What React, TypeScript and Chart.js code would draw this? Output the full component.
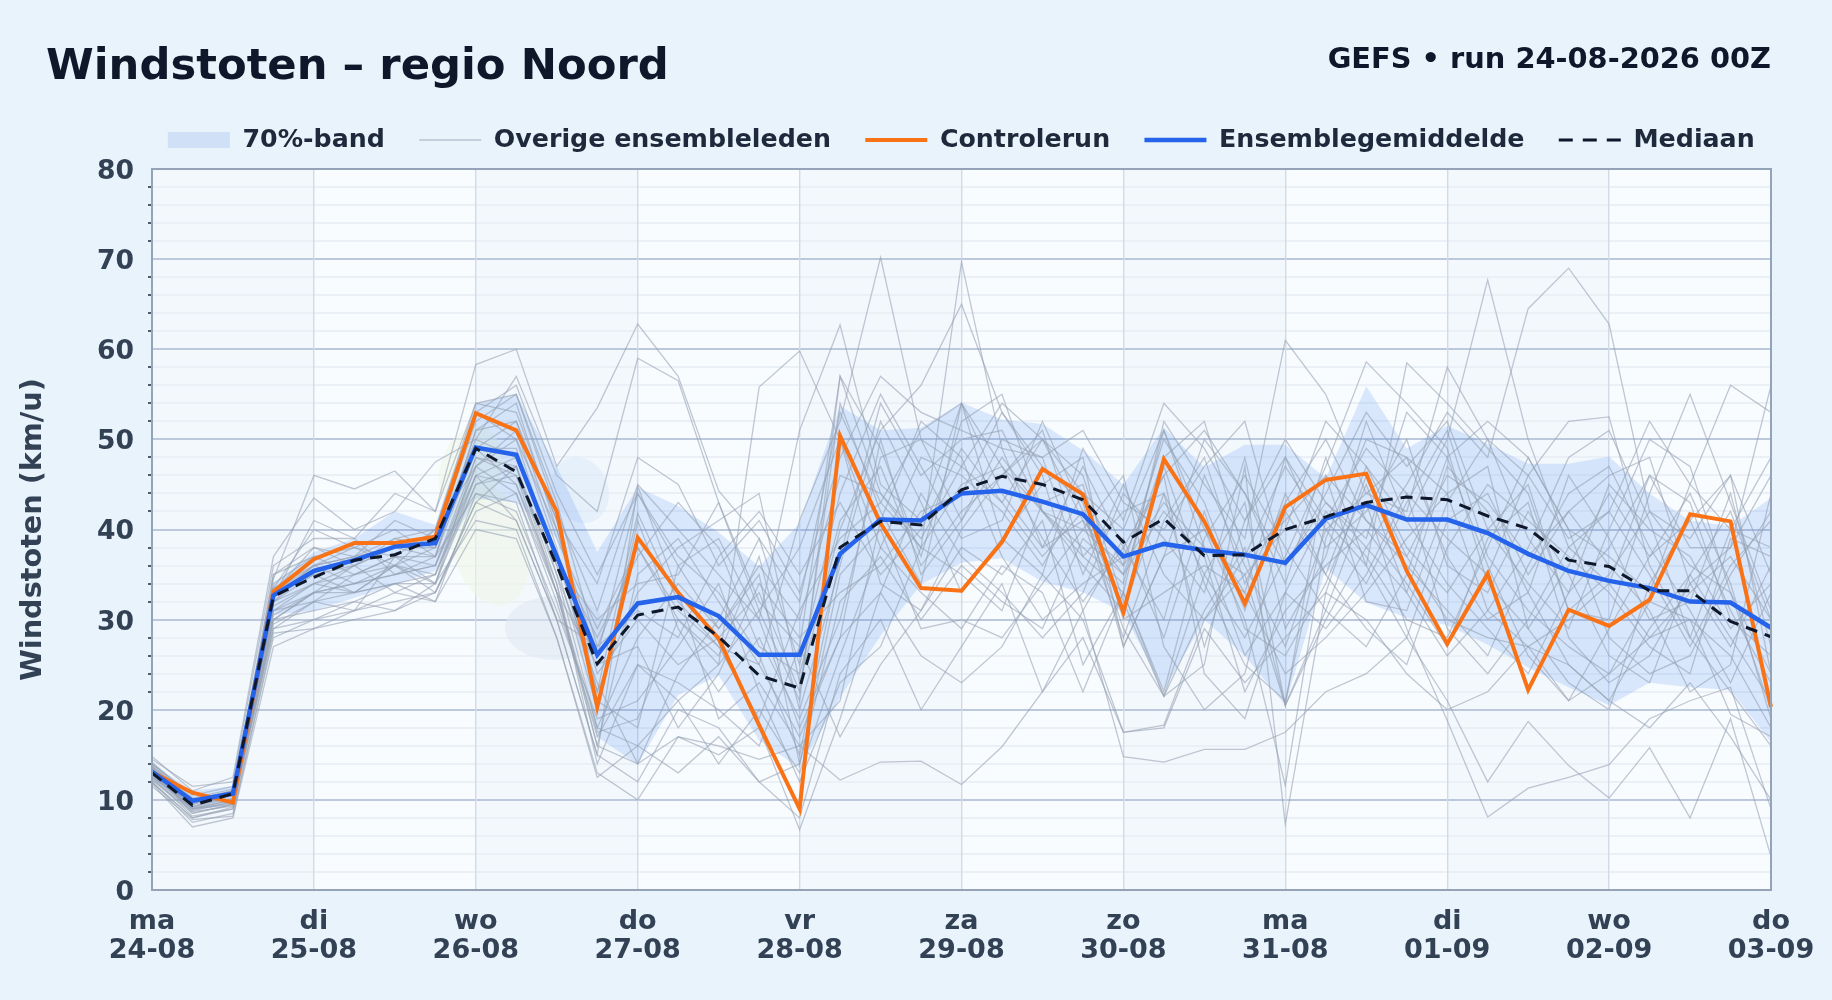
import React, { useEffect, useRef } from "react";
import { Chart, registerables } from "chart.js";

Chart.register(...registerables);

const dayNames = ["ma", "di", "wo", "do", "vr", "za", "zo", "ma", "di", "wo", "do"];
const dayDates = ["24-08", "25-08", "26-08", "27-08", "28-08", "29-08", "30-08", "31-08", "01-09", "02-09", "03-09"];
const stepsPerDay = 4;

const control = [13.1, 10.8, 9.7, 33.1, 36.7, 38.5, 38.5, 39.2, 52.9, 51, 42, 20.3, 39.1, 33, 27.9, 18.3, 9, 50.4, 40.7, 33.5, 33.2, 38.6, 46.7, 43.9, 30.8, 47.8, 40.9, 31.8, 42.5, 45.5, 46.2, 35.4, 27.3, 35.1, 22.2, 31.1, 29.3, 32.2, 41.7, 40.9, 20.3];
const ensembleMean = [13.1, 9.9, 10.7, 32.7, 35.4, 36.6, 38.1, 38.5, 49.1, 48.3, 37, 26.1, 31.8, 32.5, 30.4, 26.1, 26.1, 37.3, 41.1, 41, 44, 44.3, 43.1, 41.7, 37, 38.4, 37.7, 37.2, 36.3, 41.2, 42.7, 41.1, 41.1, 39.6, 37.3, 35.4, 34.3, 33.5, 32, 31.9, 29.1];
const median = [13, 9.4, 10.7, 32.6, 34.7, 36.6, 37.2, 39, 49, 46.4, 36, 25.1, 30.5, 31.4, 28.1, 23.8, 22.4, 38, 40.9, 40.5, 44.4, 45.9, 45, 43.3, 38.6, 41.2, 37.1, 37.2, 40, 41.4, 43, 43.6, 43.3, 41.5, 40.1, 36.6, 35.9, 33.2, 33.2, 29.8, 28.1];
const bandUpper = [14, 11, 11.5, 34, 37.5, 39, 42, 40.5, 54, 55, 47, 37.5, 44.7, 42.6, 39.7, 35.9, 40.7, 53.7, 51, 51.3, 54.1, 52.2, 51.7, 48.8, 45, 51.3, 46.9, 49.4, 49.4, 45.7, 55.9, 49, 51.5, 49.5, 47.3, 47.3, 48.1, 44, 41, 40.4, 43.5];
const bandLower = [12.3, 8.8, 9.5, 30.5, 31, 32.4, 33.9, 35.4, 43.4, 43, 39, 17, 13.9, 21.6, 23.8, 16.6, 13.5, 21.4, 28.2, 33.9, 36.3, 36.8, 34.2, 33, 30.8, 22.1, 30, 26, 20.5, 35.7, 31.9, 30.2, 29.4, 27.2, 24.7, 22.5, 20.5, 23, 22.5, 22.2, 16.4];

const m01 = [13.5, 8.5, 9.5, 34.5, 46, 44.5, 46.5, 42, 58.3, 60, 47, 53.5, 62.8, 57, 44.3, 39, 32, 53, 43, 38, 45, 47, 42, 40, 36, 43, 38, 35, 40, 52, 47, 41, 50, 67.7, 50, 38, 34, 46, 38, 38, 56];
const m02 = [14.8, 11, 12.5, 37, 43.5, 40, 42, 47.5, 50, 57, 46, 42, 59, 56.5, 43, 32, 27, 57, 49, 37, 52, 55, 42, 37, 33, 52, 45, 39, 61, 55, 44, 42, 58, 50, 46, 39, 42, 52, 45, 40, 38];
const m03 = [13, 10, 10.5, 33, 38, 36, 38, 37, 49, 52, 39, 29, 38, 31, 27, 25, 41, 52, 70.2, 50, 41, 48, 42, 36, 31, 44, 35, 28, 37, 47, 58.6, 54, 49, 34, 29, 36, 44, 37, 41, 46, 35];
const m04 = [12.5, 9.5, 11, 32, 36, 37, 39, 40, 47, 50, 40, 26, 44, 36, 29, 36, 30, 46, 44, 38, 69.7, 49, 38, 47, 38, 46, 51, 44, 36, 43, 38, 45, 53, 48, 64.5, 69, 62.8, 42, 36, 33, 24];
const m05 = [14, 10, 10, 35, 37, 35, 37, 36, 46, 48, 37, 22, 33, 38, 41, 44, 23, 40, 51, 56, 65, 53, 47, 43, 27, 37, 40, 33, 48, 41, 36, 58.5, 54, 49, 44, 31, 30, 44, 55, 43, 31];
const m06 = [12, 8, 9, 30, 33, 34, 36, 35, 45, 46, 33, 17, 25, 21, 25, 55.8, 59.8, 50, 34, 31, 40, 46, 50, 44, 40, 51, 38, 26, 33, 29, 35, 44, 39, 35, 46, 52, 52.5, 36, 28, 40, 48];
const m07 = [13, 10, 11, 31, 34, 36, 38, 39, 52, 55, 42, 31, 45, 40, 35, 30, 51, 62.7, 45, 41, 54, 39, 35, 49, 41, 54, 49, 41, 50, 43, 39, 53, 48, 52, 48, 40, 37, 33, 45, 56, 53];
const m08 = [13.6, 9.9, 10.9, 33.5, 36, 38, 36, 40, 54, 55, 43, 27, 38, 30, 25, 31, 21, 57, 44, 39, 47, 54, 50, 41, 28, 41, 48, 34, 43, 50, 41, 37, 46, 43, 37, 42, 46, 48, 34, 38, 46];
const m09 = [11.8, 7, 8, 27, 29, 31, 33, 32, 40, 39, 28, 13, 10, 17, 15, 18, 6.7, 19, 33, 26, 23, 27, 35, 30, 17.5, 18, 29, 23, 28, 33, 30, 24, 20, 22, 27, 25, 21, 18, 23, 17, 10];
const m10 = [12.5, 8.2, 9, 29, 30, 31, 32, 33, 42, 44, 33, 16, 14, 17, 16, 14.5, 16, 12.2, 14.2, 14.3, 11.7, 15.9, 22, 31, 14.8, 14.2, 15.6, 15.6, 17.5, 22, 24, 28, 21, 12, 18.7, 13.8, 10.2, 15.8, 8, 19, 3.7];
const m11 = [12, 7.5, 8.5, 28, 30, 32, 31, 33, 43, 41, 30, 15, 12, 20, 18, 12, 8, 24, 30, 20, 27, 34, 22, 28, 17.5, 18.3, 30, 35, 20.5, 31, 43, 29, 18.8, 8.1, 11.3, 12.5, 13.9, 19, 21, 22.5, 9];
const m12 = [13, 9, 9.5, 30, 33, 33, 34, 34, 45, 47, 33, 18, 16, 21, 14, 20, 13, 26, 38, 33, 29, 36, 33, 22, 33, 21.5, 25, 47, 7.3, 33, 46, 37, 30, 28, 27, 21, 24, 28, 30, 19.5, 17];
const m13 = [13.5, 9.5, 10.5, 33, 36, 37, 38, 38, 53, 56, 44, 35, 44, 37, 33, 26, 15, 37, 54, 46, 50, 51, 42, 38, 34, 51, 40, 30, 11.6, 39, 50, 48, 44, 31, 27, 30, 34, 28, 33, 37, 30];
const m14 = [12.8, 9, 10, 31, 33, 34, 35, 36, 48, 46, 36, 20, 41, 29, 22, 28, 19, 30, 48, 50, 47, 43, 50, 46, 32, 21.5, 31, 38, 20.5, 30, 38, 33, 47, 42, 33, 25, 21, 29, 35, 28, 21];
const m15 = [14, 10.5, 11.5, 34, 37, 38, 40, 37, 51, 54, 40, 24, 30, 25, 28, 33, 22, 54, 42, 34, 54, 44, 38, 41, 35, 48, 52, 37, 47, 40, 34, 43, 51, 37, 31, 27, 24, 32, 30, 26, 18];
const m16 = [13.2, 9.2, 10.5, 32, 35, 33, 36, 38, 49, 49, 35, 23, 14, 24, 30, 39, 25, 44, 55, 47, 39, 41, 52, 42, 29, 21.5, 35, 43, 20.5, 46, 41, 36, 31, 26, 36, 44, 47, 38, 31, 23, 33];
const m17 = [12.2, 8.5, 9.5, 30, 31, 32, 34, 32, 44, 43, 30, 15, 44.8, 33, 19, 23, 16, 21, 41, 52, 48, 37, 30, 34, 37, 46, 24, 19, 33, 42, 37, 30, 28, 38, 48, 40, 28, 24, 26, 35, 42];
const m18 = [13.8, 10, 11, 33, 35, 36, 33, 35, 47, 51, 38, 21, 18, 36, 39, 30, 18, 28, 33, 44, 37, 33, 28, 33, 44, 39, 33, 48, 29, 37, 52, 41, 34, 29, 24, 33, 38, 46, 43, 30, 26];
const m19 = [11.5, 7.8, 8.2, 28.5, 29, 30, 31, 34, 41, 40, 28, 12.5, 16, 13, 17, 12, 14, 35, 40, 29, 30, 28, 34, 40, 46, 27, 20, 24, 42, 35, 29, 25, 38, 45, 41, 37, 33, 27, 24, 39, 37];
const m20 = [14.5, 11.5, 12, 36, 39, 39, 44, 42, 54, 53, 41, 34, 48, 45, 36, 41, 33, 48, 57, 53, 51, 49, 48, 51, 43, 40, 47, 52, 36, 44, 53, 47, 52, 40, 34, 29, 40, 50, 47, 33, 20];
const m21 = [13, 9.8, 10.5, 32, 34, 35, 36, 34, 46, 45, 33, 25, 27, 18, 24, 34, 28, 33, 36, 42, 44, 53, 46, 31, 39, 28, 42, 29, 26, 34, 45, 33, 26, 31, 38, 48, 51, 41, 28, 22, 16];
const m22 = [12.6, 8.8, 9.8, 31, 32, 35, 37, 37, 44, 42, 31, 19, 21, 27, 34, 22, 12, 23, 27, 38, 35, 31, 43, 45, 30, 33, 36, 33, 24, 28, 33, 39, 44, 47, 29, 23, 20, 34, 41, 31, 23];
const m23 = [13.7, 9.9, 10.8, 35, 38, 37, 41, 39, 50, 48, 37, 28, 37, 43, 38, 27, 24, 41, 47, 36, 42, 46, 51, 37, 42, 44, 27, 41, 48, 38, 42, 50, 36, 33, 42, 35, 26, 23, 35, 42, 30];
const m24 = [12.9, 9.1, 10, 32.5, 36, 34, 35, 36, 47, 44, 32, 17.5, 19, 30, 26, 37, 20, 36, 52, 43, 33, 39, 45, 48, 27, 37, 50, 44, 34, 48, 36, 28, 41, 44, 35, 42, 36, 31, 22, 25, 44];
const m25 = [14.2, 10.2, 11.2, 33.5, 40, 38, 37, 40, 53, 50, 36, 30, 34, 35, 43, 31, 38, 50, 38, 48, 46, 42, 36, 44, 36, 50, 43, 31, 44, 35, 47, 38, 33, 40, 45, 31, 35, 42, 39, 46, 24];
const m26 = [11.9, 8, 9.2, 29.5, 32, 33, 36, 33, 43, 47, 34, 14, 25, 23, 20, 16, 27, 17, 25, 31, 38, 35, 41, 25, 33, 22, 39, 46, 38, 31, 27, 35, 48, 36, 26, 21, 29, 37, 44, 34, 19];
const m27 = [13.1, 9.3, 10.2, 31.5, 34, 33, 34, 35, 46, 41, 30, 27, 31, 28, 37, 42, 35, 43, 35, 40, 49, 43, 37, 42, 31, 47, 34, 25, 21, 41, 49, 44, 29, 24, 30, 38, 42, 35, 27, 36, 41];
const m28 = [12.3, 8.7, 9.3, 30.5, 33, 36, 39, 38, 49, 45, 34, 16, 35, 39, 32, 25, 17, 28, 50, 35, 41, 50, 48, 35, 45, 35, 30, 37, 41, 46, 32, 31, 43, 50, 39, 33, 45, 40, 37, 29, 34];
const m29 = [13.4, 9.7, 10.7, 32.5, 41, 39, 35, 37, 51, 52, 41, 22, 41.8, 32, 27, 19, 31, 39, 43, 51, 54, 47, 39, 32, 38, 30, 46, 36, 27, 40, 44, 48, 37, 30, 33, 46, 39, 30, 32, 44, 27];
const m30 = [12.7, 9, 9.7, 29, 32, 31, 37, 34, 48, 47, 35, 18, 28, 34, 29, 35, 14, 32, 37, 30, 36, 32, 29, 39, 35, 42, 37, 22, 31, 36, 40, 34, 27, 39, 43, 28, 23, 26, 34, 27, 36];
const members = [m01, m02, m03, m04, m05, m06, m07, m08, m09, m10, m11, m12, m13, m14, m15, m16, m17, m18, m19, m20, m21, m22, m23, m24, m25, m26, m27, m28, m29, m30];

const TITLE = "Windstoten – regio Noord";
const RUN_LABEL = "GEFS • run 24-08-2026 00Z";
const Y_TITLE = "Windstoten (km/u)";
const FONT = "'DejaVu Sans', sans-serif";
const PAGE = "#e8f3fb";
const BORDER = "#94a3b8";
const TEXT = "#334155";
const DARK = "#0f172a";
const LEGEND_TEXT = "#1e293b";
const BAND = "rgba(59,130,246,0.17)";
const MEMBER = "rgba(148,160,178,0.58)";

const labels = control.map((_, i) => (i % stepsPerDay === 0 ? [dayNames[i / stepsPerDay], dayDates[i / stepsPerDay]] : ""));

const blob = (ctx, x, y, rx, ry, rot, color) => {
  ctx.fillStyle = color;
  ctx.beginPath();
  ctx.ellipse(x, y, rx, ry, rot, 0, Math.PI * 2);
  ctx.fill();
};

const framePlugin = {
  id: "frame",
  beforeLayout(chart) {
    const legend = chart.legend;
    if (legend && !legend.__wrapped) {
      legend.__wrapped = true;
      const fit = legend.fit;
      legend.fit = function () {
        fit.call(this);
        this.height = 76;
      };
    }
  },
  afterLayout(chart) {
    if (chart.titleBlock) {
      chart.titleBlock.left = 46;
    }
    if (chart.legend) {
      chart.legend.right = 1789;
      chart.legend.top = 93;
    }
  },
  beforeDraw(chart) {
    const { ctx, width, height, chartArea: a, scales } = chart;
    ctx.save();
    ctx.fillStyle = PAGE;
    ctx.fillRect(0, 0, width, height);
    ctx.fillStyle = "#f9fcff";
    ctx.fillRect(a.left, a.top, a.right - a.left, a.bottom - a.top);
    ctx.fillStyle = "#f3f8fd";
    for (let d = 0; d < dayNames.length - 1; d += 2) {
      const x0 = scales.x.getPixelForValue(d * stepsPerDay);
      const x1 = scales.x.getPixelForValue((d + 1) * stepsPerDay);
      ctx.fillRect(x0, a.top, x1 - x0, a.bottom - a.top);
    }
    ctx.restore();
  },
  beforeDatasetsDraw(chart) {
    const { ctx } = chart;
    ctx.save();
    ctx.globalAlpha = 0.55;
    blob(ctx, 490, 545, 38, 62, -0.25, "#eef6e6");
    blob(ctx, 470, 470, 30, 45, 0.3, "#eef6e6");
    blob(ctx, 555, 628, 50, 32, 0, "#dfe8f2");
    blob(ctx, 580, 490, 28, 34, -0.4, "#dbe9f9");
    ctx.restore();
  },
  afterDatasetsDraw(chart) {
    const { ctx, chartArea: a } = chart;
    ctx.save();
    ctx.strokeStyle = BORDER;
    ctx.lineWidth = 2;
    ctx.strokeRect(a.left, a.top, a.right - a.left, a.bottom - a.top);
    ctx.restore();
  },
  afterDraw(chart) {
    const { ctx } = chart;
    ctx.save();
    ctx.fillStyle = DARK;
    ctx.font = `bold 28.85px ${FONT}`;
    ctx.textAlign = "right";
    ctx.textBaseline = "middle";
    ctx.fillText(RUN_LABEL, 1771, 60);
    ctx.restore();
  },
};

export default function App() {
  const ref = useRef(null);
  useEffect(() => {
    document.body.style.margin = "0";
    document.body.style.background = PAGE;
    const datasets = [
      { label: "Mediaan", data: median, borderColor: DARK, borderWidth: 3, borderDash: [12, 8], pointRadius: 0, tension: 0, fill: false },
      { label: "Ensemblegemiddelde", data: ensembleMean, borderColor: "#2563eb", borderWidth: 4.5, pointRadius: 0, tension: 0, fill: false },
      { label: "Controlerun", data: control, borderColor: "#f97316", borderWidth: 4, pointRadius: 0, tension: 0, fill: false },
      ...members.map((m, i) => ({ label: `Lid ${i + 1}`, data: m, borderColor: MEMBER, borderWidth: 1.3, pointRadius: 0, tension: 0, fill: false })),
      { label: "70%-band", data: bandUpper, borderWidth: 0, borderColor: "transparent", backgroundColor: BAND, pointRadius: 0, tension: 0, fill: "+1" },
      { label: "Ondergrens", data: bandLower, borderWidth: 0, borderColor: "transparent", pointRadius: 0, tension: 0, fill: false },
    ];
    const legendItems = [
      { text: "70%-band", fillStyle: "#cfe0f7", strokeStyle: "#cfe0f7", lineWidth: 0, pointStyle: "rect", lineDash: [] },
      { text: "Overige ensembleleden", fillStyle: "#b9c3d1", strokeStyle: "#b9c3d1", lineWidth: 1.4, pointStyle: "line", lineDash: [] },
      { text: "Controlerun", fillStyle: "#f97316", strokeStyle: "#f97316", lineWidth: 4, pointStyle: "line", lineDash: [] },
      { text: "Ensemblegemiddelde", fillStyle: "#2563eb", strokeStyle: "#2563eb", lineWidth: 4.5, pointStyle: "line", lineDash: [] },
      { text: "Mediaan", fillStyle: DARK, strokeStyle: DARK, lineWidth: 3, pointStyle: "line", lineDash: [14, 10] },
    ];
    const chart = new Chart(ref.current, {
      type: "line",
      data: { labels, datasets },
      plugins: [framePlugin],
      options: {
        responsive: false,
        animation: false,
        devicePixelRatio: 1,
        layout: { padding: { left: 0, right: 61, top: 0, bottom: 0 } },
        plugins: {
          tooltip: { enabled: false },
          title: {
            display: true,
            text: TITLE,
            align: "start",
            color: DARK,
            font: { family: FONT, size: 43.3, weight: "bold", lineHeight: 1.178 },
            padding: { top: 42, bottom: 0 },
          },
          legend: {
            display: true,
            position: "top",
            align: "end",
            labels: {
              color: LEGEND_TEXT,
              font: { family: FONT, size: 25.3, weight: "bold" },
              usePointStyle: true,
              pointStyleWidth: 62,
              boxWidth: 68,
              boxHeight: 16,
              padding: 34.3,
              generateLabels: () => legendItems.map((l) => ({ ...l, hidden: false, datasetIndex: 0, fontColor: LEGEND_TEXT })),
            },
          },
        },
        scales: {
          x: {
            type: "category",
            afterFit: (s) => {
              s.height = 110;
            },
            border: { display: false },
            grid: {
              drawTicks: false,
              color: (c) => (c.tick && c.tick.value % stepsPerDay === 0 ? "#d3dae6" : "transparent"),
              lineWidth: 1.4,
              z: 0,
            },
            ticks: {
              autoSkip: false,
              maxRotation: 0,
              minRotation: 0,
              color: TEXT,
              padding: 17,
              font: { family: FONT, size: 27, weight: "bold", lineHeight: 1.08 },
            },
          },
          y: {
            min: 0,
            max: 80,
            afterFit: (s) => {
              s.width = 152;
            },
            border: { display: false },
            title: {
              display: true,
              text: Y_TITLE,
              color: TEXT,
              font: { family: FONT, size: 28.7, weight: "bold" },
              padding: { top: 16, bottom: 0 },
            },
            grid: {
              z: -1,
              color: (c) => (c.tick && c.tick.value % 10 === 0 ? "#bcc8db" : "#ebf0f6"),
              lineWidth: 2,
              tickColor: (c) => (c.tick && c.tick.value % 10 === 0 ? "transparent" : "#1e293b"),
              tickWidth: 1.5,
              tickLength: 4,
            },
            ticks: {
              stepSize: 2,
              autoSkip: false,
              color: TEXT,
              padding: 14,
              labelOffset: 3,
              font: { family: FONT, size: 26.6, weight: "bold" },
              callback: (v) => (v % 10 === 0 ? String(v) : ""),
            },
          },
        },
      },
    });
    return () => chart.destroy();
  }, []);
  return <canvas ref={ref} width={1832} height={1000} style={{ display: "block", width: 1832, height: 1000 }} />;
}
